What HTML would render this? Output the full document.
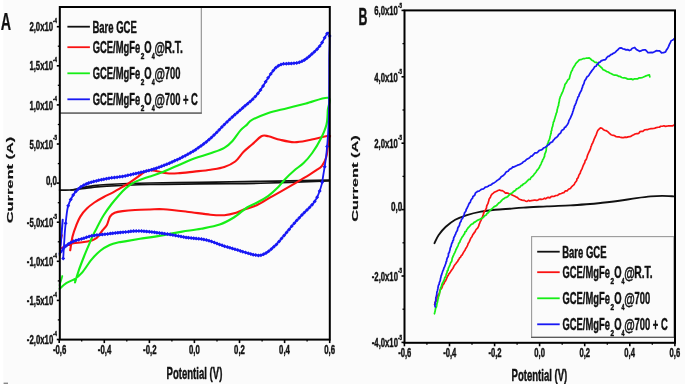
<!DOCTYPE html>
<html><head><meta charset="utf-8"><style>
html,body{margin:0;padding:0;background:#fff;}
svg{display:block;will-change:transform;}
</style></head><body>
<svg width="685" height="384" viewBox="0 0 685 384">
<rect width="685" height="384" fill="#fbfbfb"/>
<g>
<rect width="3.3" height="384" fill="#fff"/>
<rect x="3.6" y="382.6" width="4.4" height="1.4" fill="#888"/>
<path d="M59.6,190.1 C61.5,190.1 67.5,190.3 71.0,190.0 C74.5,189.7 76.9,188.8 80.3,188.2 C83.7,187.5 86.8,186.7 91.2,186.1 C95.7,185.5 97.1,185.0 106.9,184.5 C116.7,184.0 134.5,183.3 150.0,183.0 C165.5,182.7 184.2,182.6 200.0,182.4 C215.8,182.2 230.0,181.9 245.0,181.6 C260.0,181.3 276.0,181.1 290.0,180.8 C304.0,180.5 322.5,180.1 329.0,180.0" fill="none" stroke="#111" stroke-width="1.7" stroke-linejoin="round" stroke-linecap="round" />
<path d="M71.0,190.0 C72.6,189.8 77.0,189.4 80.4,189.0 C83.8,188.6 86.8,188.1 91.2,187.6 C95.7,187.1 97.1,186.6 106.9,186.1 C116.7,185.6 134.5,184.9 150.0,184.5 C165.5,184.1 184.2,184.1 200.0,183.9 C215.8,183.8 230.0,183.8 245.0,183.6 C260.0,183.3 276.0,182.9 290.0,182.4 C304.0,181.9 322.5,181.1 329.0,180.8" fill="none" stroke="#111" stroke-width="1.7" stroke-linejoin="round" stroke-linecap="round" />
<path d="M70.2,250.3 C70.6,248.0 71.6,240.4 72.6,236.2 C73.6,232.0 75.1,228.3 76.4,225.0 C77.7,221.7 78.6,219.3 80.3,216.6 C82.0,213.9 84.2,211.1 86.6,208.8 C88.9,206.4 91.5,204.5 94.4,202.5 C97.3,200.5 100.6,198.7 103.8,197.0 C106.9,195.3 110.0,194.0 113.1,192.3 C116.2,190.6 119.6,188.6 122.5,186.9 C125.4,185.2 127.7,183.9 130.3,182.2 C132.9,180.5 135.8,178.4 138.1,176.7 C140.4,175.0 142.4,173.1 144.4,172.0 C146.4,170.9 147.9,170.3 150.0,170.2 C152.1,170.1 154.2,170.7 157.0,171.2 C159.8,171.7 163.4,173.0 166.9,173.3 C170.4,173.7 173.2,173.6 177.8,173.3 C182.4,173.0 188.7,172.2 194.2,171.6 C199.7,171.0 205.6,170.5 210.6,169.7 C215.6,168.9 220.2,168.4 224.3,167.0 C228.4,165.6 232.0,164.0 235.2,161.5 C238.4,159.0 240.6,154.8 243.4,152.0 C246.2,149.2 249.0,147.1 252.0,144.5 C255.0,141.9 258.7,137.6 261.4,136.2 C264.1,134.8 265.3,135.7 268.4,136.3 C271.5,136.9 275.9,138.8 280.2,139.8 C284.5,140.8 289.5,142.1 294.2,142.2 C298.9,142.3 302.6,141.4 308.3,140.3 C314.0,139.2 325.1,136.1 328.5,135.8 C331.9,135.5 328.8,136.6 328.7,138.6 C328.6,140.6 328.0,144.9 327.6,148.0 C327.2,151.1 327.1,154.3 326.2,157.3 C325.3,160.3 323.6,163.7 322.0,165.8 C320.4,168.0 318.4,168.8 316.4,170.2 C314.4,171.6 312.1,173.0 310.0,174.3 C307.9,175.6 306.6,176.4 303.6,178.2 C300.6,180.0 297.0,182.3 291.9,185.2 C286.8,188.1 279.0,192.5 273.1,195.8 C267.2,199.1 261.7,202.9 256.7,205.2 C251.7,207.5 246.6,208.5 243.2,209.8 C239.8,211.1 239.3,211.9 236.2,212.8 C233.1,213.7 228.7,214.9 224.4,215.2 C220.1,215.5 216.7,215.3 210.4,214.7 C204.2,214.1 194.7,212.6 186.9,211.7 C179.1,210.8 169.7,209.7 163.5,209.3 C157.3,208.9 154.8,209.4 150.0,209.5 C145.2,209.6 139.6,209.7 135.0,210.0 C130.4,210.3 125.9,210.7 122.5,211.1 C119.1,211.5 116.8,211.8 114.7,212.7 C112.6,213.6 111.3,214.5 110.0,216.6 C108.7,218.7 108.2,222.7 106.9,225.0 C105.6,227.3 104.1,228.4 102.4,230.5 C100.7,232.6 98.7,236.1 96.9,237.8 C95.1,239.5 93.9,239.8 91.5,240.5 C89.1,241.2 85.3,241.9 82.3,242.3 C79.2,242.8 75.9,242.6 73.2,243.2 C70.5,243.8 68.0,245.1 65.9,246.0 C63.8,246.9 61.4,248.2 60.5,248.7" fill="none" stroke="#fa1212" stroke-width="2.1" stroke-linejoin="round" stroke-linecap="round" />
<path d="M60.2,245.6 C60.3,244.7 60.7,241.8 61.0,240.0 C61.3,238.2 61.8,235.9 62.0,235.1" fill="none" stroke="#fa1212" stroke-width="1.8" stroke-linejoin="round" stroke-linecap="round" />
<path d="M75.0,282.4 C75.6,280.4 77.2,275.0 78.7,270.6 C80.2,266.2 82.4,260.6 84.2,256.0 C86.0,251.4 87.9,247.1 89.6,243.2 C91.3,239.2 93.0,235.3 94.5,232.3 C96.0,229.3 96.8,227.9 98.3,225.0 C99.8,222.1 101.5,218.5 103.8,215.0 C106.0,211.5 109.0,207.4 111.6,204.0 C114.2,200.6 117.1,197.3 119.4,194.7 C121.7,192.1 123.5,190.2 125.6,188.4 C127.7,186.6 129.8,184.9 131.9,183.6 C134.0,182.3 136.0,181.5 138.1,180.6 C140.2,179.7 142.4,178.9 144.4,178.2 C146.4,177.5 147.2,177.3 150.0,176.4 C152.8,175.5 156.8,174.4 161.4,172.6 C166.0,170.8 172.3,167.8 177.8,165.5 C183.3,163.2 188.7,160.6 194.2,158.6 C199.7,156.6 205.6,155.1 210.6,153.3 C215.6,151.5 220.7,150.0 224.3,147.9 C228.0,145.8 229.8,144.0 232.5,141.0 C235.2,138.0 238.3,132.8 240.7,130.1 C243.1,127.4 245.1,126.3 247.0,124.6 C248.9,122.9 248.4,121.9 252.0,119.9 C255.6,118.0 262.5,114.9 268.4,112.9 C274.3,111.0 280.9,109.8 287.2,108.2 C293.5,106.6 299.2,105.2 306.0,103.5 C312.8,101.8 324.6,96.7 328.2,97.8 C331.8,98.9 328.1,105.6 327.8,110.0 C327.5,114.4 327.7,119.6 326.5,124.4 C325.3,129.2 323.2,133.9 320.8,138.7 C318.4,143.5 315.1,148.9 312.2,153.0 C309.3,157.1 306.6,160.1 303.6,163.0 C300.6,165.9 297.3,167.8 294.2,170.5 C291.1,173.2 287.5,176.6 284.8,179.4 C282.1,182.2 280.5,184.9 277.8,187.6 C275.1,190.3 271.9,193.3 268.4,195.8 C264.9,198.3 260.3,200.9 256.7,202.8 C253.1,204.8 250.8,205.1 247.0,207.5 C243.2,209.9 238.4,214.7 233.8,217.5 C229.2,220.3 225.2,222.7 219.7,224.6 C214.2,226.5 207.2,227.6 201.0,228.8 C194.8,230.0 188.4,230.6 182.2,231.6 C175.9,232.6 170.5,233.9 163.5,235.1 C156.5,236.3 146.4,237.8 140.0,238.8 C133.6,239.9 128.5,240.8 125.0,241.4 C121.5,242.0 121.3,241.7 118.8,242.3 C116.2,242.9 112.7,243.6 109.7,245.0 C106.7,246.4 103.6,248.1 100.6,250.5 C97.6,252.9 94.5,256.0 91.5,259.6 C88.5,263.2 85.0,269.2 82.3,272.4 C79.5,275.6 77.7,277.0 75.0,278.8 C72.3,280.6 68.5,281.6 65.9,283.3 C63.3,285.0 60.7,287.9 59.6,288.8" fill="none" stroke="#16ee16" stroke-width="2.1" stroke-linejoin="round" stroke-linecap="round" />
<path d="M59.6,285.2 C59.8,284.4 60.5,282.0 61.0,280.5 C61.5,279.0 62.1,276.8 62.3,276.0" fill="none" stroke="#16ee16" stroke-width="1.8" stroke-linejoin="round" stroke-linecap="round" />
<path d="M63.2,258.5 C63.4,255.6 63.9,246.2 64.3,240.9 C64.6,235.7 64.7,232.6 65.3,227.0 C65.9,221.4 66.6,212.3 67.8,207.2 C69.0,202.1 70.9,199.1 72.5,196.2 C74.1,193.4 75.4,191.8 77.2,190.0 C79.0,188.2 81.1,186.6 83.4,185.3 C85.7,184.0 87.3,183.3 91.2,182.2 C95.2,181.1 101.7,179.6 106.9,178.6 C112.1,177.6 117.3,177.3 122.5,176.4 C127.7,175.5 133.5,174.1 138.1,173.0 C142.7,171.9 146.1,171.2 150.0,170.1 C153.9,169.0 156.8,168.2 161.4,166.4 C166.0,164.6 172.3,162.0 177.8,159.4 C183.3,156.8 188.7,154.1 194.2,150.6 C199.7,147.1 205.1,143.1 210.6,138.3 C216.1,133.5 222.0,126.7 227.0,121.9 C232.0,117.1 235.8,114.1 240.7,109.6 C245.6,105.1 252.1,100.4 256.7,95.0 C261.3,89.6 265.3,81.9 268.4,77.4 C271.5,72.9 273.1,70.2 275.5,68.0 C277.9,65.8 279.8,64.9 282.5,64.1 C285.2,63.3 288.8,63.8 291.9,63.4 C295.0,63.0 298.1,63.1 301.2,61.7 C304.3,60.3 307.5,57.9 310.6,55.2 C313.7,52.6 316.9,49.5 320.0,45.8 C323.1,42.1 327.4,30.5 328.9,32.9 C330.4,35.3 329.2,45.7 329.2,60.0 C329.2,74.3 329.2,103.2 328.8,118.7 C328.4,134.2 327.4,143.6 326.5,153.0 C325.6,162.4 324.1,169.8 323.3,175.0 C322.5,180.2 322.5,181.3 321.7,184.4 C320.9,187.5 319.8,190.9 318.6,193.8 C317.4,196.6 316.4,199.1 314.7,201.6 C313.0,204.1 310.8,206.1 308.4,208.6 C306.0,211.1 303.2,213.7 300.6,216.4 C298.0,219.1 295.5,221.9 292.8,225.0 C290.1,228.1 287.1,231.9 284.5,235.0 C281.9,238.1 279.6,241.1 277.1,243.7 C274.6,246.3 271.5,249.1 269.3,250.8 C267.1,252.5 265.8,253.3 264.1,254.1 C262.4,254.9 261.1,255.4 258.9,255.4 C256.7,255.4 254.5,255.0 251.0,254.1 C247.5,253.2 242.3,251.5 238.0,250.2 C233.7,248.9 228.1,247.2 225.0,246.3 C221.9,245.4 222.9,245.6 219.7,244.5 C216.5,243.4 211.2,241.0 205.7,239.8 C200.2,238.6 193.9,238.6 186.9,237.5 C179.9,236.4 171.3,234.6 163.5,233.5 C155.7,232.4 146.4,231.2 140.0,231.0 C133.6,230.8 130.7,231.5 125.0,232.0 C119.3,232.5 111.6,233.4 106.0,234.1 C100.4,234.8 95.5,235.1 91.5,235.9 C87.5,236.7 85.3,237.8 82.3,238.7 C79.2,239.6 75.9,240.2 73.2,241.4 C70.5,242.6 68.2,244.0 65.9,246.0 C63.6,248.0 60.7,252.1 59.6,253.3" fill="none" stroke="#1818f4" stroke-width="1.8" stroke-linejoin="round" stroke-linecap="round" />
<path d="M61.20,258.50L63.20,256.50L65.20,258.50L63.20,260.50ZM63.66,223.34L65.66,221.34L67.66,223.34L65.66,225.34ZM66.19,205.69L68.19,203.69L70.19,205.69L68.19,207.69ZM68.72,199.47L70.72,197.47L72.72,199.47L70.72,201.47ZM71.21,195.01L73.21,193.01L75.21,195.01L73.21,197.01ZM73.83,191.45L75.83,189.45L77.83,191.45L75.83,193.45ZM76.32,188.94L78.32,186.94L80.32,188.94L78.32,190.94ZM78.98,186.81L80.98,184.81L82.98,186.81L80.98,188.81ZM81.65,185.16L83.65,183.16L85.65,185.16L83.65,187.16ZM84.24,183.89L86.24,181.89L88.24,183.89L86.24,185.89ZM86.70,182.97L88.70,180.97L90.70,182.97L88.70,184.97ZM89.25,182.20L91.25,180.20L93.25,182.20L91.25,184.20ZM91.72,181.53L93.72,179.53L95.72,181.53L93.72,183.53ZM94.29,180.89L96.29,178.89L98.29,180.89L96.29,182.89ZM96.75,180.31L98.75,178.31L100.75,180.31L98.75,182.31ZM99.29,179.74L101.29,177.74L103.29,179.74L101.29,181.74ZM101.84,179.20L103.84,177.20L105.84,179.20L103.84,181.20ZM104.30,178.71L106.30,176.71L108.30,178.71L106.30,180.71ZM107.00,178.24L109.00,176.24L111.00,178.24L109.00,180.24ZM109.70,177.86L111.70,175.86L113.70,177.86L111.70,179.86ZM112.40,177.52L114.40,175.52L116.40,177.52L114.40,179.52ZM115.10,177.20L117.10,175.20L119.10,177.20L117.10,179.20ZM117.80,176.83L119.80,174.83L121.80,176.83L119.80,178.83ZM120.50,176.40L122.50,174.40L124.50,176.40L122.50,178.40ZM123.19,175.89L125.19,173.89L127.19,175.89L125.19,177.89ZM125.94,175.32L127.94,173.32L129.94,175.32L127.94,177.32ZM128.68,174.71L130.68,172.71L132.68,174.71L130.68,176.71ZM131.37,174.10L133.37,172.10L135.37,174.10L133.37,176.10ZM133.95,173.50L135.95,171.50L137.95,173.50L135.95,175.50ZM136.44,172.92L138.44,170.92L140.44,172.92L138.44,174.92ZM139.04,172.33L141.04,170.33L143.04,172.33L141.04,174.33ZM141.73,171.71L143.73,169.71L145.73,171.71L143.73,173.71ZM144.30,171.08L146.30,169.08L148.30,171.08L146.30,173.08ZM146.85,170.42L148.85,168.42L150.85,170.42L148.85,172.42ZM149.45,169.69L151.45,167.69L153.45,169.69L151.45,171.69ZM151.92,168.97L153.92,166.97L155.92,168.97L153.92,170.97ZM154.39,168.19L156.39,166.19L158.39,168.19L156.39,170.19ZM157.06,167.27L159.06,165.27L161.06,167.27L159.06,169.27ZM159.64,166.31L161.64,164.31L163.64,166.31L161.64,168.31ZM162.15,165.32L164.15,163.32L166.15,165.32L164.15,167.32ZM164.87,164.23L166.87,162.23L168.87,164.23L166.87,166.23ZM167.43,163.16L169.43,161.16L171.43,163.16L169.43,165.16ZM170.05,162.03L172.05,160.03L174.05,162.03L172.05,164.03ZM172.67,160.86L174.67,158.86L176.67,160.86L174.67,162.86ZM175.24,159.67L177.24,157.67L179.24,159.67L177.24,161.67ZM177.92,158.38L179.92,156.38L181.92,158.38L179.92,160.38ZM180.56,157.08L182.56,155.08L184.56,157.08L182.56,159.08ZM183.21,155.74L185.21,153.74L187.21,155.74L185.21,157.74ZM185.85,154.34L187.85,152.34L189.85,154.34L187.85,156.34ZM188.50,152.86L190.50,150.86L192.50,152.86L190.50,154.86ZM191.14,151.27L193.14,149.27L195.14,151.27L193.14,153.27ZM193.65,149.66L195.65,147.66L197.65,149.66L195.65,151.66ZM196.30,147.87L198.30,145.87L200.30,147.87L198.30,149.87ZM198.95,145.99L200.95,143.99L202.95,145.99L200.95,147.99ZM201.61,144.02L203.61,142.02L205.61,144.02L203.61,146.02ZM204.26,141.94L206.26,139.94L208.26,141.94L206.26,143.94ZM206.91,139.75L208.91,137.75L210.91,139.75L208.91,141.75ZM209.46,137.54L211.46,135.54L213.46,137.54L211.46,139.54ZM212.05,135.09L214.05,133.09L216.05,135.09L214.05,137.09ZM214.68,132.47L216.68,130.47L218.68,132.47L216.68,134.47ZM217.29,129.76L219.29,127.76L221.29,129.76L219.29,131.76ZM219.88,127.07L221.88,125.07L223.88,127.07L221.88,129.07ZM222.39,124.48L224.39,122.48L226.39,124.48L224.39,126.48ZM225.00,121.90L227.00,119.90L229.00,121.90L227.00,123.90ZM227.60,119.46L229.60,117.46L231.60,119.46L229.60,121.46ZM230.26,117.06L232.26,115.06L234.26,117.06L232.26,119.06ZM232.84,114.79L234.84,112.79L236.84,114.79L234.84,116.79ZM235.45,112.50L237.45,110.50L239.45,112.50L237.45,114.50ZM237.98,110.25L239.98,108.25L241.98,110.25L239.98,112.25ZM240.62,107.91L242.62,105.91L244.62,107.91L242.62,109.91ZM243.10,105.79L245.10,103.79L247.10,105.79L245.10,107.79ZM245.66,103.63L247.66,101.63L249.66,103.63L247.66,105.63ZM248.22,101.41L250.22,99.41L252.22,101.41L250.22,103.41ZM250.73,99.13L252.73,97.13L254.73,99.13L252.73,101.13ZM253.30,96.55L255.30,94.55L257.30,96.55L255.30,98.55ZM255.87,93.57L257.87,91.57L259.87,93.57L257.87,95.57ZM258.49,89.95L260.49,87.95L262.49,89.95L260.49,91.95ZM261.11,85.88L263.11,83.88L265.11,85.88L263.11,87.88ZM263.67,81.67L265.67,79.67L267.67,81.67L265.67,83.67ZM266.13,77.79L268.13,75.79L270.13,77.79L268.13,79.79ZM268.74,74.00L270.74,72.00L272.74,74.00L270.74,76.00ZM271.31,70.42L273.31,68.42L275.31,70.42L273.31,72.42ZM273.77,67.75L275.77,65.75L277.77,67.75L275.77,69.75ZM276.34,65.80L278.34,63.80L280.34,65.80L278.34,67.80ZM279.00,64.57L281.00,62.57L283.00,64.57L281.00,66.57ZM281.60,63.86L283.60,61.86L285.60,63.86L283.60,65.86ZM284.28,63.63L286.28,61.63L288.28,63.63L286.28,65.63ZM286.79,63.59L288.79,61.59L290.79,63.59L288.79,65.59ZM289.29,63.47L291.29,61.47L293.29,63.47L291.29,65.47ZM292.00,63.18L294.00,61.18L296.00,63.18L294.00,65.18ZM294.70,62.89L296.70,60.89L298.70,62.89L296.70,64.89ZM297.40,62.35L299.40,60.35L301.40,62.35L299.40,64.35ZM299.94,61.36L301.94,59.36L303.94,61.36L301.94,63.36ZM302.41,59.94L304.41,57.94L306.41,59.94L304.41,61.94ZM304.88,58.20L306.88,56.20L308.88,58.20L306.88,60.20ZM307.36,56.24L309.36,54.24L311.36,56.24L309.36,58.24ZM309.89,54.09L311.89,52.09L313.89,54.09L311.89,56.09ZM312.47,51.73L314.47,49.73L316.47,51.73L314.47,53.73ZM315.05,49.15L317.05,47.15L319.05,49.15L317.05,51.15ZM317.58,46.30L319.58,44.30L321.58,46.30L319.58,48.30ZM320.07,42.60L322.07,40.60L324.07,42.60L322.07,44.60ZM322.63,37.79L324.63,35.79L326.63,37.79L324.63,39.79ZM325.14,33.59L327.14,31.59L329.14,33.59L327.14,35.59ZM327.59,36.02L329.59,34.02L331.59,36.02L329.59,38.02ZM325.12,146.50L327.12,144.50L329.12,146.50L327.12,148.50ZM322.67,166.73L324.67,164.73L326.67,166.73L324.67,168.73ZM320.18,182.29L322.18,180.29L324.18,182.29L322.18,184.29ZM317.68,190.94L319.68,188.94L321.68,190.94L319.68,192.94ZM315.16,197.15L317.16,195.15L319.16,197.15L317.16,199.15ZM312.70,201.60L314.70,199.60L316.70,201.60L314.70,203.60ZM310.10,204.77L312.10,202.77L314.10,204.77L312.10,206.77ZM307.53,207.43L309.53,205.43L311.53,207.43L309.53,209.43ZM304.98,210.05L306.98,208.05L308.98,210.05L306.98,212.05ZM302.37,212.62L304.37,210.62L306.37,212.62L304.37,214.62ZM299.92,215.04L301.92,213.04L303.92,215.04L301.92,217.04ZM297.37,217.70L299.37,215.70L301.37,217.70L299.37,219.70ZM294.73,220.56L296.73,218.56L298.73,220.56L296.73,222.56ZM292.27,223.32L294.27,221.32L296.27,223.32L294.27,225.32ZM289.66,226.33L291.66,224.33L293.66,226.33L291.66,228.33ZM287.12,229.39L289.12,227.39L291.12,229.39L289.12,231.39ZM284.57,232.50L286.57,230.50L288.57,232.50L286.57,234.50ZM282.09,235.49L284.09,233.49L286.09,235.49L284.09,237.49ZM279.53,238.60L281.53,236.60L283.53,238.60L281.53,240.60ZM277.05,241.56L279.05,239.56L281.05,241.56L279.05,243.56ZM274.44,244.38L276.44,242.38L278.44,244.38L276.44,246.38ZM271.88,246.84L273.88,244.84L275.88,246.84L273.88,248.84ZM269.35,249.10L271.35,247.10L273.35,249.10L271.35,251.10ZM266.67,251.29L268.67,249.29L270.67,251.29L268.67,253.29ZM264.06,253.11L266.06,251.11L268.06,253.11L266.06,255.11ZM261.50,254.36L263.50,252.36L265.50,254.36L263.50,256.36ZM258.93,255.21L260.93,253.21L262.93,255.21L260.93,257.21ZM256.39,255.39L258.39,253.39L260.39,255.39L258.39,257.39ZM253.73,255.12L255.73,253.12L257.73,255.12L255.73,257.12ZM251.23,254.63L253.23,252.63L255.23,254.63L253.23,256.63ZM248.77,254.04L250.77,252.04L252.77,254.04L250.77,256.04ZM246.18,253.33L248.18,251.33L250.18,253.33L248.18,255.33ZM243.57,252.54L245.57,250.54L247.57,252.54L245.57,254.54ZM240.83,251.69L242.83,249.69L244.83,251.69L242.83,253.69ZM238.38,250.93L240.38,248.93L242.38,250.93L240.38,252.93ZM235.71,250.11L237.71,248.11L239.71,250.11L237.71,252.11ZM232.96,249.29L234.96,247.29L236.96,249.29L234.96,251.29ZM230.43,248.54L232.43,246.54L234.43,248.54L232.43,250.54ZM227.95,247.80L229.95,245.80L231.95,247.80L229.95,249.80ZM225.37,247.03L227.37,245.03L229.37,247.03L227.37,249.03ZM222.53,246.15L224.53,244.15L226.53,246.15L224.53,248.15ZM220.04,245.31L222.04,243.31L224.04,245.31L222.04,247.31ZM217.50,244.43L219.50,242.43L221.50,244.43L219.50,246.43ZM214.99,243.50L216.99,241.50L218.99,243.50L216.99,245.50ZM212.27,242.45L214.27,240.45L216.27,242.45L214.27,244.45ZM209.57,241.47L211.57,239.47L213.57,241.47L211.57,243.47ZM207.01,240.65L209.01,238.65L211.01,240.65L209.01,242.65ZM204.37,239.95L206.37,237.95L208.37,239.95L206.37,241.95ZM201.85,239.45L203.85,237.45L205.85,239.45L203.85,241.45ZM199.38,239.09L201.38,237.09L203.38,239.09L201.38,241.09ZM196.80,238.79L198.80,236.79L200.80,238.79L198.80,240.79ZM194.14,238.54L196.14,236.54L198.14,238.54L196.14,240.54ZM191.69,238.30L193.69,236.30L195.69,238.30L193.69,240.30ZM189.16,238.04L191.16,236.04L193.16,238.04L191.16,240.04ZM186.56,237.73L188.56,235.73L190.56,237.73L188.56,239.73ZM184.09,237.38L186.09,235.38L188.09,237.38L186.09,239.38ZM181.60,236.97L183.60,234.97L185.60,236.97L183.60,238.97ZM179.01,236.52L181.01,234.52L183.01,236.52L181.01,238.52ZM176.35,236.04L178.35,234.04L180.35,236.04L178.35,238.04ZM173.65,235.54L175.65,233.54L177.65,235.54L175.65,237.54ZM170.90,235.04L172.90,233.04L174.90,235.04L172.90,237.04ZM168.15,234.55L170.15,232.55L172.15,234.55L170.15,236.55ZM165.41,234.09L167.41,232.09L169.41,234.09L167.41,236.09ZM162.69,233.67L164.69,231.67L166.69,233.67L164.69,235.67ZM159.98,233.29L161.98,231.29L163.98,233.29L161.98,235.29ZM157.49,232.96L159.49,230.96L161.49,232.96L159.49,234.96ZM154.96,232.63L156.96,230.63L158.96,232.63L156.96,234.63ZM152.40,232.31L154.40,230.31L156.40,232.31L154.40,234.31ZM149.86,232.01L151.86,230.01L153.86,232.01L151.86,234.01ZM147.35,231.73L149.35,229.73L151.35,231.73L149.35,233.73ZM144.61,231.46L146.61,229.46L148.61,231.46L146.61,233.46ZM141.99,231.24L143.99,229.24L145.99,231.24L143.99,233.24ZM139.53,231.07L141.53,229.07L143.53,231.07L141.53,233.07ZM136.88,230.97L138.88,228.97L140.88,230.97L138.88,232.97ZM134.21,230.97L136.21,228.97L138.21,230.97L136.21,232.97ZM131.58,231.10L133.58,229.10L135.58,231.10L133.58,233.10ZM128.88,231.35L130.88,229.35L132.88,231.35L130.88,233.35ZM126.41,231.64L128.41,229.64L130.41,231.64L128.41,233.64ZM123.67,231.94L125.67,229.94L127.67,231.94L125.67,233.94ZM121.04,232.19L123.04,230.19L125.04,232.19L123.04,234.19ZM118.35,232.46L120.35,230.46L122.35,232.46L120.35,234.46ZM115.85,232.73L117.85,230.73L119.85,232.73L117.85,234.73ZM113.31,233.02L115.31,231.02L117.31,233.02L115.31,235.02ZM110.77,233.31L112.77,231.31L114.77,233.31L112.77,235.31ZM108.30,233.60L110.30,231.60L112.30,233.60L110.30,235.60ZM105.65,233.91L107.65,231.91L109.65,233.91L107.65,235.91ZM102.96,234.22L104.96,232.22L106.96,234.22L104.96,236.22ZM100.26,234.51L102.26,232.51L104.26,234.51L102.26,236.51ZM97.68,234.79L99.68,232.79L101.68,234.79L99.68,236.79ZM94.94,235.09L96.94,233.09L98.94,235.09L96.94,237.09ZM92.37,235.43L94.37,233.43L96.37,235.43L94.37,237.43ZM89.75,235.85L91.75,233.85L93.75,235.85L91.75,237.85ZM87.13,236.45L89.13,234.45L91.13,236.45L89.13,238.45ZM84.56,237.24L86.56,235.24L88.56,237.24L86.56,239.24ZM81.94,238.17L83.94,236.17L85.94,238.17L83.94,240.17ZM79.41,238.96L81.41,236.96L83.41,238.96L81.41,240.96ZM76.69,239.67L78.69,237.67L80.69,239.67L78.69,241.67ZM74.00,240.39L76.00,238.39L78.00,240.39L76.00,242.39ZM71.47,241.28L73.47,239.28L75.47,241.28L73.47,243.28ZM68.95,242.50L70.95,240.50L72.95,242.50L70.95,244.50ZM66.36,244.08L68.36,242.08L70.36,244.08L68.36,246.08ZM63.90,246.00L65.90,244.00L67.90,246.00L65.90,248.00ZM61.42,248.59L63.42,246.59L65.42,248.59L63.42,250.59ZM58.89,251.70L60.89,249.70L62.89,251.70L60.89,253.70Z" fill="#1818f4"/>
<path d="M59.7,255.0 C60.0,252.2 60.7,243.9 61.2,238.0 C61.7,232.1 62.5,222.8 62.7,219.8" fill="none" stroke="#1818f4" stroke-width="2.0" stroke-linejoin="round" stroke-linecap="round" />
<rect x="59.8" y="7.0" width="141.5" height="106.0" fill="#fbfbfb" stroke="#8c8c8c" stroke-width="1.1"/>
<line x1="59.8" y1="113.1" x2="201.8" y2="113.1" stroke="#5a5a5a" stroke-width="1.4"/>
<rect x="59.8" y="7.0" width="270.0" height="332.6" fill="none" stroke="#000" stroke-width="2"/>
<line x1="56.8" y1="26.7" x2="59.8" y2="26.7" stroke="#000" stroke-width="1.6"/>
<line x1="57.8" y1="46.2" x2="59.8" y2="46.2" stroke="#000" stroke-width="1.3"/>
<line x1="56.8" y1="65.8" x2="59.8" y2="65.8" stroke="#000" stroke-width="1.6"/>
<line x1="57.8" y1="85.3" x2="59.8" y2="85.3" stroke="#000" stroke-width="1.3"/>
<line x1="56.8" y1="104.9" x2="59.8" y2="104.9" stroke="#000" stroke-width="1.6"/>
<line x1="57.8" y1="124.5" x2="59.8" y2="124.5" stroke="#000" stroke-width="1.3"/>
<line x1="56.8" y1="144.0" x2="59.8" y2="144.0" stroke="#000" stroke-width="1.6"/>
<line x1="57.8" y1="163.6" x2="59.8" y2="163.6" stroke="#000" stroke-width="1.3"/>
<line x1="56.8" y1="183.1" x2="59.8" y2="183.1" stroke="#000" stroke-width="1.6"/>
<line x1="57.8" y1="202.7" x2="59.8" y2="202.7" stroke="#000" stroke-width="1.3"/>
<line x1="56.8" y1="222.2" x2="59.8" y2="222.2" stroke="#000" stroke-width="1.6"/>
<line x1="57.8" y1="241.8" x2="59.8" y2="241.8" stroke="#000" stroke-width="1.3"/>
<line x1="56.8" y1="261.3" x2="59.8" y2="261.3" stroke="#000" stroke-width="1.6"/>
<line x1="57.8" y1="280.9" x2="59.8" y2="280.9" stroke="#000" stroke-width="1.3"/>
<line x1="56.8" y1="300.4" x2="59.8" y2="300.4" stroke="#000" stroke-width="1.6"/>
<line x1="57.8" y1="319.9" x2="59.8" y2="319.9" stroke="#000" stroke-width="1.3"/>
<line x1="56.8" y1="339.5" x2="59.8" y2="339.5" stroke="#000" stroke-width="1.6"/>
<line x1="59.2" y1="339.6" x2="59.2" y2="343.1" stroke="#000" stroke-width="1.6"/>
<line x1="81.7" y1="339.6" x2="81.7" y2="341.6" stroke="#000" stroke-width="1.3"/>
<line x1="104.3" y1="339.6" x2="104.3" y2="343.1" stroke="#000" stroke-width="1.6"/>
<line x1="126.8" y1="339.6" x2="126.8" y2="341.6" stroke="#000" stroke-width="1.3"/>
<line x1="149.4" y1="339.6" x2="149.4" y2="343.1" stroke="#000" stroke-width="1.6"/>
<line x1="171.9" y1="339.6" x2="171.9" y2="341.6" stroke="#000" stroke-width="1.3"/>
<line x1="194.4" y1="339.6" x2="194.4" y2="343.1" stroke="#000" stroke-width="1.6"/>
<line x1="217.0" y1="339.6" x2="217.0" y2="341.6" stroke="#000" stroke-width="1.3"/>
<line x1="239.5" y1="339.6" x2="239.5" y2="343.1" stroke="#000" stroke-width="1.6"/>
<line x1="262.1" y1="339.6" x2="262.1" y2="341.6" stroke="#000" stroke-width="1.3"/>
<line x1="284.6" y1="339.6" x2="284.6" y2="343.1" stroke="#000" stroke-width="1.6"/>
<line x1="307.1" y1="339.6" x2="307.1" y2="341.6" stroke="#000" stroke-width="1.3"/>
<line x1="329.7" y1="339.6" x2="329.7" y2="343.1" stroke="#000" stroke-width="1.6"/>
<text font-family="Liberation Sans" font-weight="bold" stroke="#111" stroke-width="0.45" stroke-linejoin="round" font-size="13.429" fill="#111" transform="translate(29.38,31.30) scale(0.5800,1)">2,0x10</text>
<text font-family="Liberation Sans" font-weight="bold" stroke="#111" stroke-width="0.45" stroke-linejoin="round" font-size="6.667" fill="#111" transform="translate(53.12,23.10) scale(0.6568,1)">-4</text>
<text font-family="Liberation Sans" font-weight="bold" stroke="#111" stroke-width="0.45" stroke-linejoin="round" font-size="13.429" fill="#111" transform="translate(29.38,70.40) scale(0.5800,1)">1,5x10</text>
<text font-family="Liberation Sans" font-weight="bold" stroke="#111" stroke-width="0.45" stroke-linejoin="round" font-size="6.667" fill="#111" transform="translate(53.12,62.20) scale(0.6568,1)">-4</text>
<text font-family="Liberation Sans" font-weight="bold" stroke="#111" stroke-width="0.45" stroke-linejoin="round" font-size="13.429" fill="#111" transform="translate(29.38,109.50) scale(0.5800,1)">1,0x10</text>
<text font-family="Liberation Sans" font-weight="bold" stroke="#111" stroke-width="0.45" stroke-linejoin="round" font-size="6.667" fill="#111" transform="translate(53.12,101.30) scale(0.6568,1)">-4</text>
<text font-family="Liberation Sans" font-weight="bold" stroke="#111" stroke-width="0.45" stroke-linejoin="round" font-size="13.429" fill="#111" transform="translate(29.38,148.60) scale(0.5800,1)">5,0x10</text>
<text font-family="Liberation Sans" font-weight="bold" stroke="#111" stroke-width="0.45" stroke-linejoin="round" font-size="6.667" fill="#111" transform="translate(53.12,140.40) scale(0.6727,1)">-5</text>
<text font-family="Liberation Sans" font-weight="bold" stroke="#111" stroke-width="0.45" stroke-linejoin="round" font-size="12.714" fill="#111" transform="translate(45.93,184.80) scale(0.6274,1)">0,0</text>
<text font-family="Liberation Sans" font-weight="bold" stroke="#111" stroke-width="0.45" stroke-linejoin="round" font-size="13.429" fill="#111" transform="translate(26.81,226.80) scale(0.5800,1)">-5,0x10</text>
<text font-family="Liberation Sans" font-weight="bold" stroke="#111" stroke-width="0.45" stroke-linejoin="round" font-size="6.667" fill="#111" transform="translate(53.12,218.60) scale(0.6727,1)">-5</text>
<text font-family="Liberation Sans" font-weight="bold" stroke="#111" stroke-width="0.45" stroke-linejoin="round" font-size="13.429" fill="#111" transform="translate(26.81,265.90) scale(0.5800,1)">-1,0x10</text>
<text font-family="Liberation Sans" font-weight="bold" stroke="#111" stroke-width="0.45" stroke-linejoin="round" font-size="6.667" fill="#111" transform="translate(53.12,257.70) scale(0.6568,1)">-4</text>
<text font-family="Liberation Sans" font-weight="bold" stroke="#111" stroke-width="0.45" stroke-linejoin="round" font-size="13.429" fill="#111" transform="translate(26.81,305.00) scale(0.5800,1)">-1,5x10</text>
<text font-family="Liberation Sans" font-weight="bold" stroke="#111" stroke-width="0.45" stroke-linejoin="round" font-size="6.667" fill="#111" transform="translate(53.12,296.80) scale(0.6568,1)">-4</text>
<text font-family="Liberation Sans" font-weight="bold" stroke="#111" stroke-width="0.45" stroke-linejoin="round" font-size="13.429" fill="#111" transform="translate(26.81,344.10) scale(0.5800,1)">-2,0x10</text>
<text font-family="Liberation Sans" font-weight="bold" stroke="#111" stroke-width="0.45" stroke-linejoin="round" font-size="6.667" fill="#111" transform="translate(53.12,335.90) scale(0.6568,1)">-4</text>
<text font-family="Liberation Sans" font-weight="bold" stroke="#111" stroke-width="0.45" stroke-linejoin="round" font-size="12.571" fill="#111" transform="translate(52.88,353.60) scale(0.6200,1)">-0,6</text>
<text font-family="Liberation Sans" font-weight="bold" stroke="#111" stroke-width="0.45" stroke-linejoin="round" font-size="12.571" fill="#111" transform="translate(97.84,353.60) scale(0.6200,1)">-0,4</text>
<text font-family="Liberation Sans" font-weight="bold" stroke="#111" stroke-width="0.45" stroke-linejoin="round" font-size="12.571" fill="#111" transform="translate(143.06,353.60) scale(0.6200,1)">-0,2</text>
<text font-family="Liberation Sans" font-weight="bold" stroke="#111" stroke-width="0.45" stroke-linejoin="round" font-size="12.571" fill="#111" transform="translate(189.02,353.60) scale(0.6200,1)">0,0</text>
<text font-family="Liberation Sans" font-weight="bold" stroke="#111" stroke-width="0.45" stroke-linejoin="round" font-size="12.571" fill="#111" transform="translate(234.10,353.60) scale(0.6200,1)">0,2</text>
<text font-family="Liberation Sans" font-weight="bold" stroke="#111" stroke-width="0.45" stroke-linejoin="round" font-size="12.571" fill="#111" transform="translate(279.05,353.60) scale(0.6200,1)">0,4</text>
<text font-family="Liberation Sans" font-weight="bold" stroke="#111" stroke-width="0.45" stroke-linejoin="round" font-size="12.571" fill="#111" transform="translate(324.24,353.60) scale(0.6200,1)">0,6</text>
<text font-family="Liberation Sans" font-weight="bold" stroke="#111" stroke-width="0.45" stroke-linejoin="round" font-size="16.087" fill="#111" transform="translate(166.58,378.90) scale(0.5945,1)">Potential (V)</text>
<text font-family="Liberation Sans" font-weight="bold" stroke="#111" stroke-width="0.2" stroke-linejoin="round" font-size="9.296" fill="#111" transform="translate(12.90,223.36) rotate(-90) scale(1.7660,1)">Current (A)</text>
<text font-family="Liberation Sans" font-weight="bold" stroke="#111" stroke-width="0.25" stroke-linejoin="round" font-size="24.203" fill="#111" transform="translate(0.74,29.80) scale(0.5920,1)">A</text>
<path d="M434.5,243.2 C435.2,241.8 436.8,237.7 438.7,235.0 C440.6,232.3 443.1,229.3 445.8,226.8 C448.6,224.3 451.7,221.8 455.2,219.8 C458.7,217.9 462.6,216.5 466.9,215.1 C471.2,213.7 476.2,212.5 480.9,211.6 C485.6,210.7 490.1,210.2 495.0,209.7 C499.9,209.2 505.3,209.0 510.0,208.7 C514.7,208.3 517.2,208.0 523.4,207.6 C529.5,207.2 539.1,206.8 546.9,206.4 C554.7,206.0 563.1,205.8 570.3,205.4 C577.5,205.0 584.7,204.4 590.0,204.0 C595.3,203.6 597.3,203.3 602.2,202.8 C607.1,202.3 613.6,201.6 619.3,200.8 C625.0,200.0 631.2,198.8 636.5,198.1 C641.8,197.4 646.5,196.8 650.8,196.4 C655.1,196.0 658.5,195.9 662.3,195.9 C666.1,195.9 671.8,196.3 673.7,196.4" fill="none" stroke="#111" stroke-width="1.9" stroke-linejoin="round" stroke-linecap="round" />
<path d="M434.50,304.40 L435.05,304.03 L435.02,302.07 L435.91,301.42 L436.39,299.55 L436.96,298.33 L437.56,296.35 L438.09,295.13 L438.81,294.39 L439.49,292.72 L439.81,291.24 L440.19,289.82 L441.00,288.94 L441.56,288.36 L442.23,286.88 L442.68,285.19 L443.31,284.14 L443.99,283.82 L444.66,281.80 L445.36,281.21 L445.87,280.11 L446.47,278.81 L446.85,277.85 L447.74,275.92 L448.23,275.42 L448.86,273.92 L449.66,273.09 L450.45,271.84 L451.16,270.76 L452.22,269.21 L452.83,268.52 L453.67,266.95 L454.14,265.70 L455.11,264.45 L455.97,263.43 L456.79,262.25 L457.73,261.31 L458.18,260.15 L458.97,259.22 L459.57,257.80 L460.45,257.46 L461.32,255.48 L462.23,254.97 L463.10,253.24 L463.83,251.86 L464.58,250.77 L465.01,250.26 L465.59,248.72 L466.61,247.21 L466.93,246.58 L467.69,245.12 L468.14,243.46 L468.86,242.46 L469.46,241.44 L470.08,239.95 L470.72,238.24 L471.76,236.96 L472.15,236.26 L472.95,234.45 L473.95,233.44 L474.18,232.55 L475.16,231.86 L475.61,230.36 L476.27,229.34 L477.33,228.45 L478.10,227.21 L478.78,225.81 L479.13,224.21 L479.78,223.11 L480.06,221.99 L481.02,220.37 L481.44,219.31 L481.97,217.72 L482.75,216.48 L483.13,215.30 L483.37,214.11 L483.96,212.32 L484.42,211.17 L484.93,210.46 L485.60,209.68 L486.44,208.16 L486.67,206.12 L487.21,204.83 L487.91,203.66 L488.44,201.80 L488.78,200.82 L489.05,199.16 L489.74,198.13 L490.41,197.24 L491.02,195.55 L491.99,194.21 L493.04,193.30 L493.89,192.52 L494.86,192.01 L496.65,191.14 L497.92,190.55 L499.53,189.97 L500.86,190.53 L502.40,190.66 L504.22,191.87 L505.51,193.22 L506.79,192.94 L508.14,193.22 L509.16,193.99 L510.40,194.10 L512.15,195.08 L513.21,195.54 L514.91,196.29 L516.25,197.09 L517.33,197.39 L518.58,198.71 L519.54,199.20 L520.74,199.65 L522.04,200.08 L523.53,200.40 L524.39,200.33 L525.56,201.18 L527.08,201.33 L528.41,200.38 L529.78,201.05 L531.30,200.65 L532.73,200.46 L534.06,200.15 L535.12,200.20 L536.60,200.35 L537.90,200.19 L538.92,199.36 L540.38,199.16 L541.72,199.33 L543.31,198.98 L544.58,198.23 L545.62,198.87 L546.72,198.02 L548.10,197.35 L549.90,197.91 L551.14,196.69 L552.29,196.42 L553.77,196.48 L554.93,195.92 L556.01,195.52 L557.64,195.30 L558.40,194.62 L560.01,193.84 L561.37,193.52 L562.50,192.93 L563.84,192.75 L564.79,191.53 L565.84,190.79 L567.00,190.99 L567.84,189.91 L569.15,188.92 L570.38,188.50 L571.45,187.03 L572.60,185.84 L573.45,185.12 L574.34,184.27 L574.86,183.02 L575.84,181.77 L576.78,180.55 L576.85,179.14 L577.81,178.13 L578.58,176.32 L578.75,175.42 L579.64,173.97 L580.29,173.07 L580.48,171.76 L581.42,169.86 L582.03,168.91 L582.39,167.77 L582.99,166.19 L583.76,164.44 L584.43,163.27 L584.76,162.58 L585.21,160.39 L585.94,159.96 L586.56,158.58 L587.00,157.19 L587.45,155.47 L588.06,153.92 L588.37,153.35 L588.92,152.08 L589.72,150.51 L590.13,149.71 L590.68,147.93 L590.90,146.76 L591.59,145.32 L591.88,144.28 L592.85,142.83 L593.12,141.63 L593.55,140.94 L593.95,139.57 L594.51,138.34 L595.21,136.78 L595.77,135.56 L596.28,134.56 L596.86,132.71 L597.54,131.05 L598.04,130.15 L598.63,129.63 L599.45,128.73 L600.53,127.91 L602.04,128.23 L603.42,129.67 L604.81,130.32 L606.05,130.56 L607.09,131.16 L608.26,132.21 L609.44,133.28 L611.00,134.72 L612.03,135.04 L613.64,135.33 L614.67,135.79 L616.20,136.72 L617.78,136.79 L619.45,136.93 L620.88,137.46 L622.11,137.66 L623.51,137.63 L625.24,137.10 L626.56,137.32 L628.02,136.85 L629.52,136.71 L630.89,136.35 L632.10,135.52 L633.72,134.76 L635.01,134.02 L636.73,133.65 L637.72,133.68 L638.80,133.18 L640.00,131.64 L641.34,131.37 L642.85,131.32 L644.00,130.36 L645.12,129.74 L646.70,129.53 L647.86,129.53 L649.23,129.02 L651.05,128.64 L652.09,128.56 L653.58,128.52 L655.01,128.09 L656.44,127.57 L658.06,127.23 L659.38,127.23 L660.65,126.23 L662.48,126.23 L663.93,125.75 L665.36,126.35 L666.83,126.21 L668.44,125.80 L669.96,125.76 L670.79,125.92 L672.69,125.81 L673.70,125.20" fill="none" stroke="#fa1212" stroke-width="1.7" stroke-linejoin="round" stroke-linecap="round"/>
<path d="M434.50,313.80 L434.55,313.08 L434.85,312.17 L435.25,310.48 L435.25,309.96 L435.71,307.96 L436.43,306.73 L436.71,305.23 L436.97,303.41 L437.33,302.66 L437.61,301.14 L437.98,299.22 L438.32,298.48 L438.39,296.63 L438.98,295.77 L439.21,294.86 L439.51,293.59 L439.67,292.17 L440.02,291.02 L440.57,288.92 L440.55,287.81 L441.33,286.84 L441.63,285.30 L442.07,284.03 L442.50,282.92 L443.15,281.95 L443.74,280.71 L444.37,279.51 L444.82,277.43 L445.45,276.96 L446.00,275.27 L446.43,273.61 L447.00,272.69 L447.24,270.90 L448.03,270.54 L448.16,269.06 L448.84,267.11 L449.31,266.40 L450.14,264.33 L450.56,262.94 L451.06,262.07 L451.60,261.53 L451.88,260.34 L452.24,258.19 L452.86,256.91 L453.13,256.04 L453.82,254.54 L454.03,254.02 L454.67,252.87 L455.47,251.08 L455.78,250.02 L456.46,248.79 L457.03,247.50 L457.84,246.08 L458.22,244.98 L458.76,243.27 L459.78,242.21 L460.23,240.44 L460.82,239.77 L461.29,238.59 L462.27,236.86 L463.02,235.98 L463.80,234.57 L464.59,233.69 L465.03,231.76 L466.14,231.46 L466.72,229.80 L467.68,228.57 L468.35,227.54 L469.13,226.90 L470.27,225.47 L471.67,224.10 L472.73,223.93 L473.76,222.63 L475.18,221.90 L476.04,221.34 L477.48,220.29 L478.47,219.91 L479.92,219.44 L481.11,218.57 L482.04,218.37 L483.49,217.35 L484.15,216.19 L485.25,215.34 L486.33,215.01 L486.98,213.42 L488.28,212.72 L489.33,211.33 L490.11,210.19 L491.38,209.31 L492.14,208.56 L493.20,207.64 L494.51,206.45 L495.12,206.30 L496.65,205.41 L497.51,204.44 L498.84,202.80 L499.82,202.54 L500.85,201.36 L501.74,200.34 L502.79,199.23 L504.06,198.63 L505.25,197.58 L506.39,197.42 L507.48,196.81 L508.54,195.69 L509.16,195.05 L510.29,193.79 L511.57,193.21 L512.48,192.81 L513.61,191.41 L514.46,191.13 L515.60,190.25 L516.56,188.87 L517.68,188.70 L518.54,187.89 L520.08,187.05 L521.22,185.43 L522.30,185.48 L523.20,184.09 L524.49,183.52 L525.74,182.60 L527.09,181.21 L527.88,180.33 L528.83,179.41 L530.19,179.30 L530.68,178.03 L531.72,176.88 L532.66,176.23 L533.69,174.93 L534.38,173.86 L535.20,173.03 L536.32,171.78 L536.79,170.48 L537.69,169.78 L538.63,168.38 L539.35,167.42 L539.84,165.93 L540.54,165.02 L541.13,163.75 L541.75,162.04 L542.36,161.24 L542.67,159.73 L543.36,158.98 L544.13,157.15 L544.57,156.26 L544.66,154.63 L544.97,153.68 L545.58,152.46 L545.99,150.95 L546.29,149.55 L546.33,148.29 L546.65,146.54 L547.43,145.16 L547.47,143.95 L548.26,142.77 L548.22,142.17 L548.66,140.91 L549.32,139.61 L549.85,138.04 L550.16,136.14 L550.53,135.21 L550.83,133.61 L551.16,133.18 L551.14,131.28 L551.70,130.47 L551.86,128.49 L552.18,127.58 L552.75,126.03 L552.88,124.72 L553.19,123.46 L553.37,122.29 L554.14,121.01 L554.42,119.37 L554.79,118.62 L555.19,117.08 L555.50,115.94 L556.10,114.20 L556.10,113.57 L556.89,112.11 L557.02,111.07 L557.24,109.37 L557.62,108.24 L558.02,106.40 L558.53,105.63 L558.64,103.89 L559.01,102.59 L559.40,100.61 L559.53,99.04 L559.99,98.18 L560.29,96.71 L560.83,95.84 L561.22,94.89 L561.86,93.38 L562.32,92.50 L562.96,91.06 L563.32,89.73 L564.02,87.89 L564.47,86.94 L564.88,84.77 L565.37,83.92 L566.29,82.96 L567.18,81.15 L567.65,80.13 L568.41,79.56 L569.38,78.70 L569.64,77.30 L570.07,75.48 L570.65,73.76 L570.80,73.13 L571.51,71.26 L572.33,70.16 L572.75,68.44 L573.67,67.29 L574.23,66.16 L575.27,64.79 L575.76,63.42 L576.39,62.97 L577.41,61.99 L579.00,60.16 L580.32,59.57 L581.70,59.28 L583.03,58.71 L584.78,58.51 L586.12,58.24 L587.99,58.11 L589.22,57.81 L590.49,58.82 L591.81,60.22 L592.93,60.68 L594.11,61.67 L595.00,62.35 L596.58,62.42 L597.72,63.35 L598.57,65.09 L599.89,66.18 L601.06,67.28 L601.91,67.98 L603.11,69.64 L604.56,70.28 L605.72,70.86 L606.69,71.64 L608.25,72.01 L609.70,72.95 L610.89,73.45 L611.87,73.92 L613.26,74.71 L614.51,75.21 L615.72,75.06 L617.00,75.31 L618.87,76.43 L620.13,76.41 L621.78,77.47 L623.44,77.94 L624.65,77.75 L626.36,78.38 L627.97,79.21 L629.35,79.15 L631.21,78.93 L632.80,79.60 L634.72,78.78 L635.85,78.76 L637.35,78.90 L638.92,77.92 L640.56,77.76 L641.95,77.63 L642.96,77.26 L644.70,76.47 L646.04,75.89 L647.19,75.47 L648.23,75.07 L649.37,74.84 L649.80,76.90" fill="none" stroke="#16ee16" stroke-width="1.75" stroke-linejoin="round" stroke-linecap="round"/>
<path d="M435.20,306.80 L434.92,305.53 L435.15,302.95 L435.10,302.33 L435.67,301.71 L435.75,300.00 L435.82,298.83 L435.84,297.34 L436.08,296.79 L436.62,295.25 L436.86,293.19 L436.90,292.17 L437.40,290.96 L437.79,288.79 L437.94,288.17 L438.21,286.41 L438.54,285.02 L439.13,284.46 L439.32,282.54 L439.89,281.46 L440.27,280.38 L440.48,278.62 L440.92,277.34 L441.08,275.96 L441.78,274.50 L441.74,273.96 L442.19,272.83 L442.84,270.97 L443.62,269.43 L443.81,268.21 L444.39,267.14 L444.72,266.44 L445.19,264.97 L446.00,263.00 L445.93,262.05 L446.63,261.30 L446.71,259.83 L447.04,258.74 L447.33,257.72 L448.12,256.69 L448.41,255.40 L448.44,253.41 L449.31,252.59 L449.44,251.44 L449.96,250.02 L450.19,248.21 L450.67,246.96 L451.04,246.60 L451.43,244.45 L451.71,243.40 L452.51,242.38 L452.71,240.89 L453.50,239.99 L453.58,238.38 L453.98,237.23 L454.78,235.94 L454.97,234.99 L455.56,234.29 L455.99,232.59 L456.84,231.22 L457.47,230.02 L457.64,228.67 L458.09,227.40 L458.75,226.58 L459.60,224.90 L459.76,223.37 L460.42,222.05 L460.97,221.44 L461.48,219.38 L462.41,218.67 L463.03,217.18 L463.57,216.10 L464.10,214.85 L464.53,212.87 L464.97,212.32 L465.90,211.06 L466.20,209.50 L467.02,208.22 L467.61,206.88 L468.11,205.84 L468.50,204.92 L469.43,202.97 L470.22,202.44 L470.86,200.14 L471.77,198.89 L472.61,198.15 L472.94,196.44 L474.02,195.71 L474.84,195.02 L475.33,193.14 L476.41,192.31 L477.64,191.26 L478.79,191.15 L479.98,190.38 L481.13,189.56 L482.19,189.13 L483.46,188.94 L484.39,188.10 L485.32,187.01 L486.80,186.85 L488.18,186.31 L488.92,185.48 L490.39,185.06 L491.19,184.76 L492.79,183.36 L493.84,182.96 L495.14,182.11 L495.84,181.57 L497.15,180.43 L497.67,180.16 L499.00,179.22 L499.77,178.68 L501.00,176.96 L502.19,176.10 L502.85,175.90 L503.90,174.95 L504.79,174.07 L505.85,172.35 L507.10,171.54 L508.24,171.11 L509.46,169.25 L510.43,168.88 L511.69,168.22 L512.78,166.90 L513.78,167.05 L514.99,166.40 L516.47,165.72 L517.51,165.18 L518.52,164.95 L519.80,164.41 L520.92,163.79 L522.36,162.91 L523.37,161.74 L524.60,161.27 L525.62,160.31 L526.40,159.55 L527.84,158.78 L528.96,158.15 L529.88,157.30 L530.97,156.20 L531.94,156.21 L532.90,155.11 L534.04,153.96 L534.96,152.92 L536.61,152.92 L537.75,152.09 L539.05,150.65 L540.10,150.21 L541.31,149.88 L542.61,149.15 L543.46,148.08 L544.87,147.42 L545.93,146.77 L546.80,146.13 L548.05,144.90 L549.42,144.13 L550.19,142.81 L551.21,142.36 L552.51,141.78 L553.17,140.42 L554.32,139.41 L555.06,138.21 L555.88,137.77 L557.06,136.82 L557.79,136.12 L558.81,134.26 L559.39,134.02 L560.70,132.92 L561.34,131.29 L561.90,130.26 L562.87,129.90 L564.10,128.80 L564.59,127.36 L565.51,127.15 L566.27,126.02 L567.32,124.69 L568.23,123.16 L568.60,121.94 L568.96,120.56 L569.63,119.31 L570.06,118.79 L570.70,117.27 L571.42,115.71 L571.88,114.57 L572.46,113.07 L572.73,111.89 L573.38,110.26 L573.74,108.55 L574.33,107.68 L574.35,106.21 L575.19,105.09 L575.45,104.18 L576.17,102.56 L576.46,101.30 L576.84,100.35 L577.40,99.03 L578.02,96.85 L578.89,96.21 L579.07,94.75 L579.78,93.50 L580.15,92.39 L581.04,91.12 L581.52,90.14 L581.84,88.65 L582.54,87.20 L582.68,85.91 L583.61,84.21 L584.01,83.39 L584.54,81.15 L585.11,80.09 L585.78,79.36 L586.26,78.28 L587.18,76.64 L588.06,76.21 L588.91,75.20 L589.68,73.90 L590.47,72.66 L591.53,71.34 L591.98,70.53 L593.11,69.19 L594.07,67.78 L594.75,66.57 L596.04,66.27 L596.98,64.41 L598.09,64.13 L598.82,62.40 L599.97,62.22 L601.11,60.87 L602.42,60.35 L603.54,59.95 L604.73,59.99 L605.91,59.13 L606.66,57.78 L607.79,56.46 L608.67,56.47 L609.83,55.56 L610.84,54.66 L612.34,54.10 L613.42,53.01 L614.46,52.99 L615.90,51.53 L616.79,50.63 L617.70,50.02 L618.53,48.90 L619.48,48.21 L621.03,47.80 L622.83,48.86 L624.42,49.16 L626.03,49.88 L627.70,49.53 L629.36,50.53 L630.83,50.04 L632.00,48.45 L633.17,48.03 L634.75,47.47 L635.60,48.64 L636.76,49.76 L638.07,50.38 L639.48,51.31 L640.85,50.97 L642.58,50.08 L644.16,49.87 L645.47,49.89 L646.62,51.02 L647.98,52.69 L649.35,52.66 L651.21,52.39 L652.49,52.61 L654.53,51.78 L656.27,50.66 L657.95,50.82 L659.28,50.84 L660.25,51.42 L661.52,52.78 L662.81,52.73 L664.00,52.55 L665.57,51.86 L666.37,50.15 L667.16,49.16 L667.99,47.73 L668.64,46.33 L669.11,45.13 L670.01,43.17 L670.32,42.78 L671.28,40.50 L672.33,40.26 L673.55,39.60 L674.10,38.60" fill="none" stroke="#1818f4" stroke-width="1.75" stroke-linejoin="round" stroke-linecap="round"/>
<rect x="531.6" y="236.6" width="142.3" height="100.7" fill="#fbfbfb" stroke="#9a9a9a" stroke-width="1.1"/>
<line x1="531.1" y1="337.4" x2="674.4" y2="337.4" stroke="#5a5a5a" stroke-width="1.4"/>
<rect x="404.5" y="10.4" width="270.5" height="332.4" fill="none" stroke="#000" stroke-width="2"/>
<line x1="401.5" y1="10.4" x2="404.5" y2="10.4" stroke="#000" stroke-width="1.6"/>
<line x1="402.5" y1="43.6" x2="404.5" y2="43.6" stroke="#000" stroke-width="1.3"/>
<line x1="401.5" y1="76.8" x2="404.5" y2="76.8" stroke="#000" stroke-width="1.6"/>
<line x1="402.5" y1="110.0" x2="404.5" y2="110.0" stroke="#000" stroke-width="1.3"/>
<line x1="401.5" y1="143.2" x2="404.5" y2="143.2" stroke="#000" stroke-width="1.6"/>
<line x1="402.5" y1="176.4" x2="404.5" y2="176.4" stroke="#000" stroke-width="1.3"/>
<line x1="401.5" y1="209.6" x2="404.5" y2="209.6" stroke="#000" stroke-width="1.6"/>
<line x1="402.5" y1="242.8" x2="404.5" y2="242.8" stroke="#000" stroke-width="1.3"/>
<line x1="401.5" y1="276.0" x2="404.5" y2="276.0" stroke="#000" stroke-width="1.6"/>
<line x1="402.5" y1="309.2" x2="404.5" y2="309.2" stroke="#000" stroke-width="1.3"/>
<line x1="401.5" y1="342.4" x2="404.5" y2="342.4" stroke="#000" stroke-width="1.6"/>
<line x1="404.4" y1="342.8" x2="404.4" y2="346.3" stroke="#000" stroke-width="1.6"/>
<line x1="426.9" y1="342.8" x2="426.9" y2="344.8" stroke="#000" stroke-width="1.3"/>
<line x1="449.5" y1="342.8" x2="449.5" y2="346.3" stroke="#000" stroke-width="1.6"/>
<line x1="472.0" y1="342.8" x2="472.0" y2="344.8" stroke="#000" stroke-width="1.3"/>
<line x1="494.6" y1="342.8" x2="494.6" y2="346.3" stroke="#000" stroke-width="1.6"/>
<line x1="517.1" y1="342.8" x2="517.1" y2="344.8" stroke="#000" stroke-width="1.3"/>
<line x1="539.6" y1="342.8" x2="539.6" y2="346.3" stroke="#000" stroke-width="1.6"/>
<line x1="562.2" y1="342.8" x2="562.2" y2="344.8" stroke="#000" stroke-width="1.3"/>
<line x1="584.7" y1="342.8" x2="584.7" y2="346.3" stroke="#000" stroke-width="1.6"/>
<line x1="607.3" y1="342.8" x2="607.3" y2="344.8" stroke="#000" stroke-width="1.3"/>
<line x1="629.8" y1="342.8" x2="629.8" y2="346.3" stroke="#000" stroke-width="1.6"/>
<line x1="652.3" y1="342.8" x2="652.3" y2="344.8" stroke="#000" stroke-width="1.3"/>
<line x1="674.9" y1="342.8" x2="674.9" y2="346.3" stroke="#000" stroke-width="1.6"/>
<text font-family="Liberation Sans" font-weight="bold" stroke="#111" stroke-width="0.45" stroke-linejoin="round" font-size="13.286" fill="#111" transform="translate(374.33,15.30) scale(0.5800,1)">6,0x10</text>
<text font-family="Liberation Sans" font-weight="bold" stroke="#111" stroke-width="0.45" stroke-linejoin="round" font-size="7.536" fill="#111" transform="translate(398.12,7.60) scale(0.5951,1)">-5</text>
<text font-family="Liberation Sans" font-weight="bold" stroke="#111" stroke-width="0.45" stroke-linejoin="round" font-size="13.286" fill="#111" transform="translate(374.33,81.70) scale(0.5800,1)">4,0x10</text>
<text font-family="Liberation Sans" font-weight="bold" stroke="#111" stroke-width="0.45" stroke-linejoin="round" font-size="7.536" fill="#111" transform="translate(398.12,74.00) scale(0.5951,1)">-5</text>
<text font-family="Liberation Sans" font-weight="bold" stroke="#111" stroke-width="0.45" stroke-linejoin="round" font-size="13.286" fill="#111" transform="translate(374.33,148.10) scale(0.5800,1)">2,0x10</text>
<text font-family="Liberation Sans" font-weight="bold" stroke="#111" stroke-width="0.45" stroke-linejoin="round" font-size="7.536" fill="#111" transform="translate(398.12,140.40) scale(0.5951,1)">-5</text>
<text font-family="Liberation Sans" font-weight="bold" stroke="#111" stroke-width="0.45" stroke-linejoin="round" font-size="12.714" fill="#111" transform="translate(390.97,211.30) scale(0.6424,1)">0,0</text>
<text font-family="Liberation Sans" font-weight="bold" stroke="#111" stroke-width="0.45" stroke-linejoin="round" font-size="13.286" fill="#111" transform="translate(371.79,280.90) scale(0.5800,1)">-2,0x10</text>
<text font-family="Liberation Sans" font-weight="bold" stroke="#111" stroke-width="0.45" stroke-linejoin="round" font-size="7.536" fill="#111" transform="translate(398.12,273.20) scale(0.5951,1)">-5</text>
<text font-family="Liberation Sans" font-weight="bold" stroke="#111" stroke-width="0.45" stroke-linejoin="round" font-size="13.286" fill="#111" transform="translate(371.79,347.30) scale(0.5800,1)">-4,0x10</text>
<text font-family="Liberation Sans" font-weight="bold" stroke="#111" stroke-width="0.45" stroke-linejoin="round" font-size="7.536" fill="#111" transform="translate(398.12,339.60) scale(0.5951,1)">-5</text>
<text font-family="Liberation Sans" font-weight="bold" stroke="#111" stroke-width="0.45" stroke-linejoin="round" font-size="12.286" fill="#111" transform="translate(398.23,356.50) scale(0.6200,1)">-0,6</text>
<text font-family="Liberation Sans" font-weight="bold" stroke="#111" stroke-width="0.45" stroke-linejoin="round" font-size="12.286" fill="#111" transform="translate(443.20,356.50) scale(0.6200,1)">-0,4</text>
<text font-family="Liberation Sans" font-weight="bold" stroke="#111" stroke-width="0.45" stroke-linejoin="round" font-size="12.286" fill="#111" transform="translate(488.41,356.50) scale(0.6200,1)">-0,2</text>
<text font-family="Liberation Sans" font-weight="bold" stroke="#111" stroke-width="0.45" stroke-linejoin="round" font-size="12.286" fill="#111" transform="translate(534.35,356.50) scale(0.6200,1)">0,0</text>
<text font-family="Liberation Sans" font-weight="bold" stroke="#111" stroke-width="0.45" stroke-linejoin="round" font-size="12.286" fill="#111" transform="translate(579.43,356.50) scale(0.6200,1)">0,2</text>
<text font-family="Liberation Sans" font-weight="bold" stroke="#111" stroke-width="0.45" stroke-linejoin="round" font-size="12.286" fill="#111" transform="translate(624.37,356.50) scale(0.6200,1)">0,4</text>
<text font-family="Liberation Sans" font-weight="bold" stroke="#111" stroke-width="0.45" stroke-linejoin="round" font-size="12.286" fill="#111" transform="translate(669.57,356.50) scale(0.6200,1)">0,6</text>
<text font-family="Liberation Sans" font-weight="bold" stroke="#111" stroke-width="0.45" stroke-linejoin="round" font-size="15.942" fill="#111" transform="translate(511.58,381.20) scale(0.5999,1)">Potential (V)</text>
<text font-family="Liberation Sans" font-weight="bold" stroke="#111" stroke-width="0.2" stroke-linejoin="round" font-size="9.296" fill="#111" transform="translate(357.50,221.86) rotate(-90) scale(1.7681,1)">Current (A)</text>
<text font-family="Liberation Sans" font-weight="bold" stroke="#111" stroke-width="0.45" stroke-linejoin="round" font-size="23.333" fill="#111" transform="translate(358.50,25.40) scale(0.5269,1)">B</text>
<line x1="67.4" y1="26.7" x2="89.9" y2="26.7" stroke="#111" stroke-width="1.8"/>
<line x1="67.4" y1="47.2" x2="89.9" y2="47.2" stroke="#fa1212" stroke-width="1.8"/>
<line x1="67.4" y1="73.3" x2="89.9" y2="73.3" stroke="#16ee16" stroke-width="1.8"/>
<line x1="67.4" y1="99.3" x2="89.9" y2="99.3" stroke="#1818f4" stroke-width="1.8"/>
<text font-family="Liberation Sans" font-weight="bold" stroke="#111" stroke-width="0.45" stroke-linejoin="round" font-size="16.087" fill="#111" transform="translate(92.38,33.00) scale(0.5910,1)">Bare GCE</text>
<text font-family="Liberation Sans" font-weight="bold" stroke="#111" stroke-width="0.45" stroke-linejoin="round" font-size="16.087" fill="#111" transform="translate(92.72,53.00) scale(0.5842,1)">GCE/MgFe</text>
<text font-family="Liberation Sans" font-weight="bold" stroke="#111" stroke-width="0.45" stroke-linejoin="round" font-size="8.143" fill="#111" transform="translate(140.77,58.90) scale(0.7931,1)">2</text>
<text font-family="Liberation Sans" font-weight="bold" stroke="#111" stroke-width="0.45" stroke-linejoin="round" font-size="15.857" fill="#111" transform="translate(144.37,53.00) scale(0.5943,1)">O</text>
<text font-family="Liberation Sans" font-weight="bold" stroke="#111" stroke-width="0.45" stroke-linejoin="round" font-size="8.143" fill="#111" transform="translate(151.82,58.90) scale(0.6542,1)">4</text>
<text font-family="Liberation Sans" font-weight="bold" stroke="#111" stroke-width="0.45" stroke-linejoin="round" font-size="16.322" fill="#111" transform="translate(154.41,53.79) scale(0.6587,1)">@</text>
<text font-family="Liberation Sans" font-weight="bold" stroke="#111" stroke-width="0.45" stroke-linejoin="round" font-size="16.087" fill="#111" transform="translate(164.43,53.00) scale(0.6424,1)">R.T.</text>
<text font-family="Liberation Sans" font-weight="bold" stroke="#111" stroke-width="0.45" stroke-linejoin="round" font-size="16.087" fill="#111" transform="translate(92.72,79.10) scale(0.5842,1)">GCE/MgFe</text>
<text font-family="Liberation Sans" font-weight="bold" stroke="#111" stroke-width="0.45" stroke-linejoin="round" font-size="8.143" fill="#111" transform="translate(140.77,85.00) scale(0.7931,1)">2</text>
<text font-family="Liberation Sans" font-weight="bold" stroke="#111" stroke-width="0.45" stroke-linejoin="round" font-size="15.857" fill="#111" transform="translate(144.37,79.10) scale(0.5943,1)">O</text>
<text font-family="Liberation Sans" font-weight="bold" stroke="#111" stroke-width="0.45" stroke-linejoin="round" font-size="8.143" fill="#111" transform="translate(151.82,85.00) scale(0.6542,1)">4</text>
<text font-family="Liberation Sans" font-weight="bold" stroke="#111" stroke-width="0.45" stroke-linejoin="round" font-size="16.322" fill="#111" transform="translate(154.41,79.89) scale(0.6587,1)">@</text>
<text font-family="Liberation Sans" font-weight="bold" stroke="#111" stroke-width="0.45" stroke-linejoin="round" font-size="15.857" fill="#111" transform="translate(164.72,79.10) scale(0.5928,1)">700</text>
<text font-family="Liberation Sans" font-weight="bold" stroke="#111" stroke-width="0.45" stroke-linejoin="round" font-size="16.087" fill="#111" transform="translate(92.72,105.10) scale(0.5842,1)">GCE/MgFe</text>
<text font-family="Liberation Sans" font-weight="bold" stroke="#111" stroke-width="0.45" stroke-linejoin="round" font-size="8.143" fill="#111" transform="translate(140.77,111.00) scale(0.7931,1)">2</text>
<text font-family="Liberation Sans" font-weight="bold" stroke="#111" stroke-width="0.45" stroke-linejoin="round" font-size="15.857" fill="#111" transform="translate(144.37,105.10) scale(0.5943,1)">O</text>
<text font-family="Liberation Sans" font-weight="bold" stroke="#111" stroke-width="0.45" stroke-linejoin="round" font-size="8.143" fill="#111" transform="translate(151.82,111.00) scale(0.6542,1)">4</text>
<text font-family="Liberation Sans" font-weight="bold" stroke="#111" stroke-width="0.45" stroke-linejoin="round" font-size="16.322" fill="#111" transform="translate(154.41,105.89) scale(0.6587,1)">@</text>
<text font-family="Liberation Sans" font-weight="bold" stroke="#111" stroke-width="0.45" stroke-linejoin="round" font-size="15.857" fill="#111" transform="translate(164.72,105.10) scale(0.5933,1)">700 + C</text>
<line x1="537.2" y1="251.7" x2="559.7" y2="251.7" stroke="#111" stroke-width="1.8"/>
<line x1="537.2" y1="272.2" x2="559.7" y2="272.2" stroke="#fa1212" stroke-width="1.8"/>
<line x1="537.2" y1="298.3" x2="559.7" y2="298.3" stroke="#16ee16" stroke-width="1.8"/>
<line x1="537.2" y1="324.3" x2="559.7" y2="324.3" stroke="#1818f4" stroke-width="1.8"/>
<text font-family="Liberation Sans" font-weight="bold" stroke="#111" stroke-width="0.45" stroke-linejoin="round" font-size="16.087" fill="#111" transform="translate(562.18,258.00) scale(0.5910,1)">Bare GCE</text>
<text font-family="Liberation Sans" font-weight="bold" stroke="#111" stroke-width="0.45" stroke-linejoin="round" font-size="16.087" fill="#111" transform="translate(562.52,278.00) scale(0.5842,1)">GCE/MgFe</text>
<text font-family="Liberation Sans" font-weight="bold" stroke="#111" stroke-width="0.45" stroke-linejoin="round" font-size="8.143" fill="#111" transform="translate(610.57,283.90) scale(0.7931,1)">2</text>
<text font-family="Liberation Sans" font-weight="bold" stroke="#111" stroke-width="0.45" stroke-linejoin="round" font-size="15.857" fill="#111" transform="translate(614.17,278.00) scale(0.5943,1)">O</text>
<text font-family="Liberation Sans" font-weight="bold" stroke="#111" stroke-width="0.45" stroke-linejoin="round" font-size="8.143" fill="#111" transform="translate(621.62,283.90) scale(0.6542,1)">4</text>
<text font-family="Liberation Sans" font-weight="bold" stroke="#111" stroke-width="0.45" stroke-linejoin="round" font-size="16.322" fill="#111" transform="translate(624.21,278.79) scale(0.6587,1)">@</text>
<text font-family="Liberation Sans" font-weight="bold" stroke="#111" stroke-width="0.45" stroke-linejoin="round" font-size="16.087" fill="#111" transform="translate(634.23,278.00) scale(0.6424,1)">R.T.</text>
<text font-family="Liberation Sans" font-weight="bold" stroke="#111" stroke-width="0.45" stroke-linejoin="round" font-size="16.087" fill="#111" transform="translate(562.52,304.10) scale(0.5842,1)">GCE/MgFe</text>
<text font-family="Liberation Sans" font-weight="bold" stroke="#111" stroke-width="0.45" stroke-linejoin="round" font-size="8.143" fill="#111" transform="translate(610.57,310.00) scale(0.7931,1)">2</text>
<text font-family="Liberation Sans" font-weight="bold" stroke="#111" stroke-width="0.45" stroke-linejoin="round" font-size="15.857" fill="#111" transform="translate(614.17,304.10) scale(0.5943,1)">O</text>
<text font-family="Liberation Sans" font-weight="bold" stroke="#111" stroke-width="0.45" stroke-linejoin="round" font-size="8.143" fill="#111" transform="translate(621.62,310.00) scale(0.6542,1)">4</text>
<text font-family="Liberation Sans" font-weight="bold" stroke="#111" stroke-width="0.45" stroke-linejoin="round" font-size="16.322" fill="#111" transform="translate(624.21,304.89) scale(0.6587,1)">@</text>
<text font-family="Liberation Sans" font-weight="bold" stroke="#111" stroke-width="0.45" stroke-linejoin="round" font-size="15.857" fill="#111" transform="translate(634.52,304.10) scale(0.5928,1)">700</text>
<text font-family="Liberation Sans" font-weight="bold" stroke="#111" stroke-width="0.45" stroke-linejoin="round" font-size="16.087" fill="#111" transform="translate(562.52,330.10) scale(0.5842,1)">GCE/MgFe</text>
<text font-family="Liberation Sans" font-weight="bold" stroke="#111" stroke-width="0.45" stroke-linejoin="round" font-size="8.143" fill="#111" transform="translate(610.57,336.00) scale(0.7931,1)">2</text>
<text font-family="Liberation Sans" font-weight="bold" stroke="#111" stroke-width="0.45" stroke-linejoin="round" font-size="15.857" fill="#111" transform="translate(614.17,330.10) scale(0.5943,1)">O</text>
<text font-family="Liberation Sans" font-weight="bold" stroke="#111" stroke-width="0.45" stroke-linejoin="round" font-size="8.143" fill="#111" transform="translate(621.62,336.00) scale(0.6542,1)">4</text>
<text font-family="Liberation Sans" font-weight="bold" stroke="#111" stroke-width="0.45" stroke-linejoin="round" font-size="16.322" fill="#111" transform="translate(624.21,330.89) scale(0.6587,1)">@</text>
<text font-family="Liberation Sans" font-weight="bold" stroke="#111" stroke-width="0.45" stroke-linejoin="round" font-size="15.857" fill="#111" transform="translate(634.52,330.10) scale(0.5933,1)">700 + C</text>
</g>
</svg>
</body></html>
